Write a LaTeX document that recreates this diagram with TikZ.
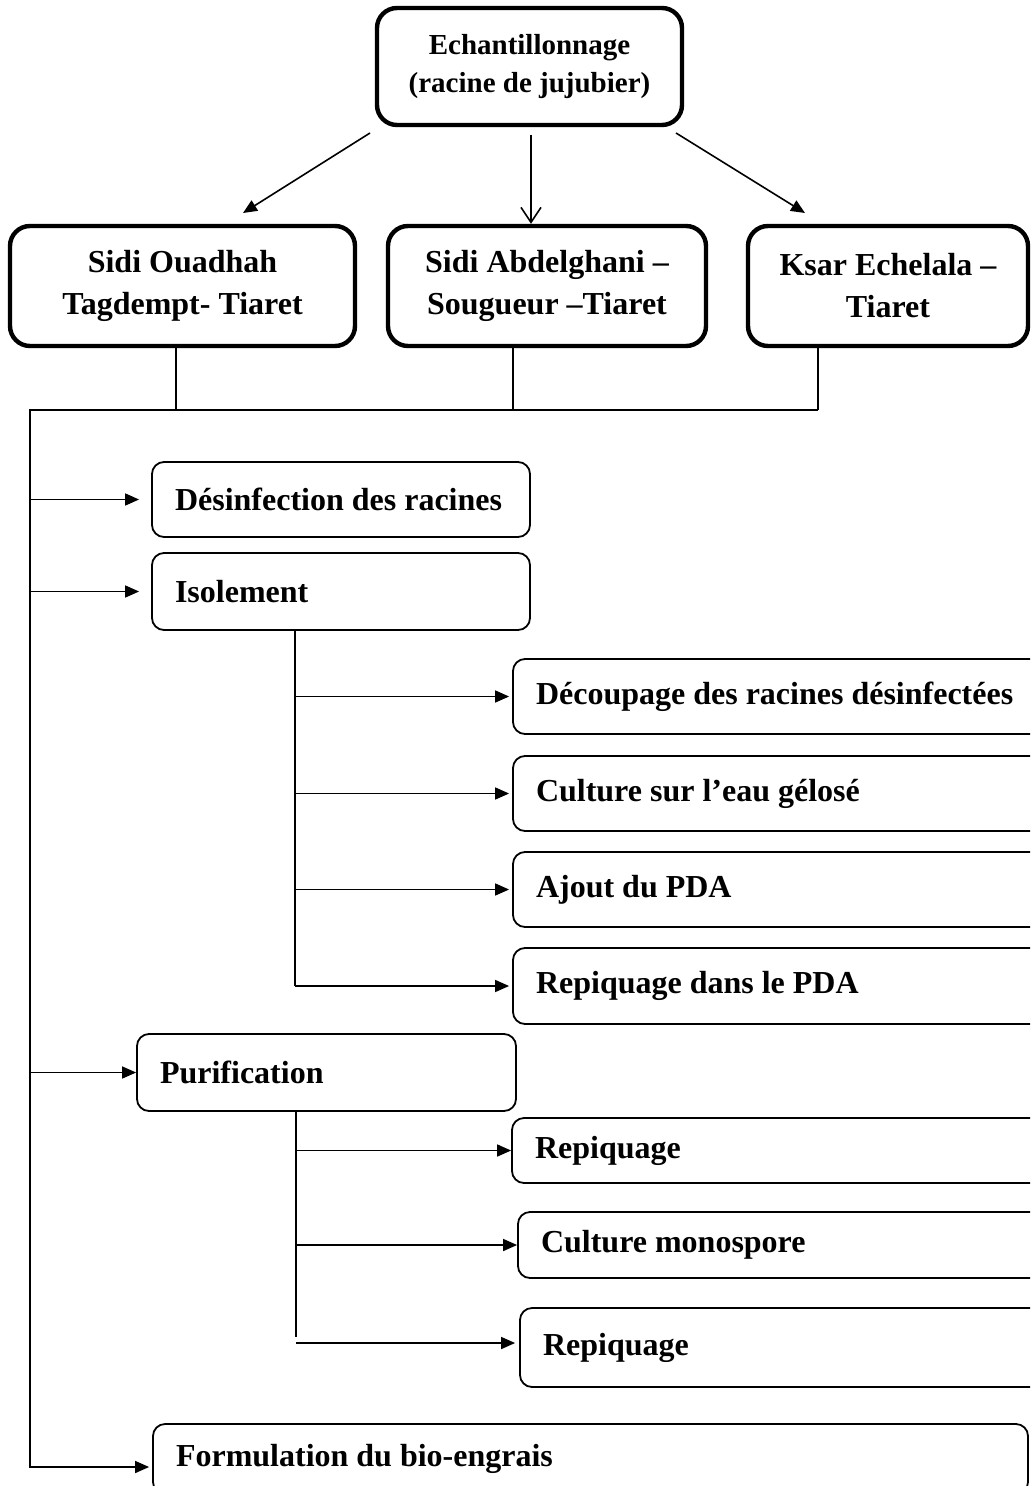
\documentclass[tikz,border=0pt]{standalone}
\usepackage{fontspec}
\setmainfont{Liberation Serif}
\usetikzlibrary{arrows.meta,positioning,calc}

\begin{document}
\begin{tikzpicture}[
    x=0.5pt, y=-0.5pt,
    font=\bfseries\fontsize{16}{21}\selectfont,
    site/.style={draw, line width=2.2pt, rounded corners=10pt, align=flush center, inner sep=0pt, minimum height=60pt},
    box/.style={draw, line width=0.9pt, rounded corners=6pt, align=flush left, inner xsep=11.5pt, inner ysep=0pt},
    arrow/.style={-{Triangle[length=7pt,width=6pt]}, line width=0.8pt},
    link/.style={line width=0.8pt}
]
    \clip (0,0) rectangle (1030,1486);

    % Echantillonnage et sites
    \node[site, minimum width=152.5pt, minimum height=58.5pt, font=\bfseries\fontsize{14.5}{19}\selectfont] (ech) at (529.5,66.5) {Echantillonnage\\(racine de jujubier)};
    \node[site, minimum width=172.5pt] (sidi) at (182.5,286) {Sidi Ouadhah\\Tagdempt- Tiaret};
    \node[site, minimum width=159pt] (abdel) at (547,286) {Sidi Abdelghani –\\Sougueur –Tiaret};
    \node[site, minimum width=140pt] (ksar) at (888,286) {Ksar Echelala –\\Tiaret};

    % Etapes
    \node[box, text width=166pt, minimum height=37.5pt] (desinf) at (341,499.5) {Désinfection des racines};
    \node[box, text width=166pt, minimum height=38.5pt] (isol) at (341,591.5) {Isolement};
    \node[box, text width=250.5pt, minimum height=37.5pt] (decoup) at (786.5,696.5) {Découpage des racines désinfectées};
    \node[box, text width=250.5pt, minimum height=37.5pt] (culture) at (786.5,793.5) {Culture sur l’eau gélosé};
    \node[box, text width=250.5pt, minimum height=37.5pt] (ajout) at (786.5,889.5) {Ajout du PDA};
    \node[box, text width=250.5pt, minimum height=38pt] (repdpa) at (786.5,986) {Repiquage dans le PDA};
    \node[box, text width=166.5pt, minimum height=38.5pt] (purif) at (326.5,1072.5) {Purification};
    \node[box, text width=251pt, minimum height=32.5pt] (rep1) at (786,1150.5) {Repiquage};
    \node[box, text width=248pt, minimum height=33pt] (mono) at (789,1245) {Culture monospore};
    \node[box, text width=247pt, minimum height=39.5pt] (rep2) at (790,1347.5) {Repiquage};
    \node[box, text width=414.5pt, minimum height=35pt] (formul) at (590.5,1459) {Formulation du bio-engrais};

    % Fleches du haut
    \coordinate (eL) at (370,133);
    \coordinate (eM) at (531,135);
    \coordinate (eR) at (676,133);
    \coordinate (tL) at (243,213);
    \coordinate (tR) at (805,213);
    \draw[arrow] (eL) -- (tL);
    \draw[arrow] (eR) -- (tR);
    \draw[link, -{Straight Barb[length=7.5pt,width=10pt]}] (eM) -- (eM |- abdel.north);

    % Collecteur
    \coordinate (jL) at (176,410);
    \coordinate (jM) at (513,410);
    \coordinate (jR) at (818,410);
    \coordinate (bus) at (30,410);
    \coordinate (busend) at (30,1467);
    \draw[link] (sidi.south -| jL) -- (jL);
    \draw[link] (abdel.south -| jM) -- (jM);
    \draw[link] (ksar.south -| jR) -- (jR);
    \draw[arrow, shorten >=1.5pt] (jR) -- (bus) -- (busend) -- (busend -| formul.west);
    \draw[arrow, shorten >=6pt] (bus |- desinf) -- (desinf.west);
    \draw[arrow, shorten >=6pt] (bus |- isol) -- (isol.west);
    \draw[arrow] (bus |- purif) -- (purif.west);

    % Isolement
    \coordinate (iv) at (295,986);
    \draw[link] (isol.south -| iv) -- (iv);
    \draw[arrow, shorten >=1.5pt] (iv |- decoup) -- (decoup.west);
    \draw[arrow, shorten >=1.5pt] (iv |- culture) -- (culture.west);
    \draw[arrow, shorten >=1.5pt] (iv |- ajout) -- (ajout.west);
    \draw[arrow, shorten >=1.5pt] (iv) -- (repdpa.west |- iv);

    % Purification
    \coordinate (pv) at (296,1337);
    \draw[link] (purif.south -| pv) -- (pv);
    \draw[arrow] (pv |- rep1) -- (rep1.west);
    \draw[arrow] (pv |- mono) -- (mono.west);
    \draw[arrow, shorten >=2pt] (pv |- 0,1343) -- (rep2.west |- 0,1343);
\end{tikzpicture}
\end{document}
